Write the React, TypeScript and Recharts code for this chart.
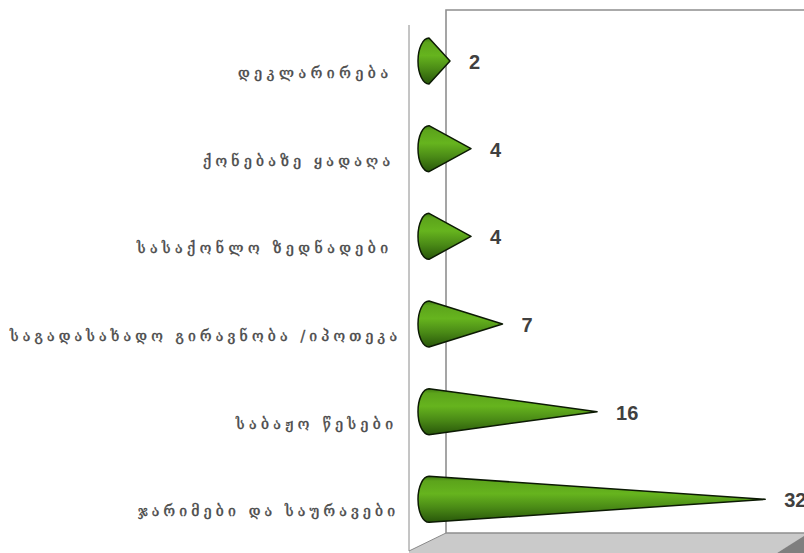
import { BarChart, Bar, XAxis, YAxis, LabelList, Customized } from "recharts";

const categories = [
  "დეკლარირება",
  "ქონებაზე ყადაღა",
  "სასაქონლო ზედნადები",
  "საგადასახადო გირავნობა /იპოთეკა",
  "საბაჟო წესები",
  "ჯარიმები და საურავები",
];
const counts = [2, 4, 4, 7, 16, 32];

const data = categories.map((name, i) => ({ name, value: counts[i] }));

// Правый край и ширина подписей: в оригинале они выровнены неровно
const tickEnds = [388, 390, 388, 397, 393, 395];
const tickWidths = [150, 187, 251, 387, 157, 257];

// Конус: основание-эллипс слева, вершина на значении
const Cone = (props: any) => {
  const { x, y, width, height } = props;
  const cy = y + height / 2;
  const r = 23;
  const rx = 11;
  const tip = x + width;
  const d = `M ${tip} ${cy} L ${x} ${cy - r} A ${rx} ${r} 0 0 0 ${x} ${cy + r} Z`;
  return <path d={d} fill="url(#coneFill)" stroke="#0c1a04" strokeWidth={1.5} strokeLinejoin="round" />;
};

// Задняя стенка и пол псевдо-3D рамки
const Frame = () => (
  <g>
    <polygon points="446,533 804,533 804,537 777,553 409,553 409,551" fill="#cacaca" />
    <polygon points="777,553 804,536 804,553" fill="#7f7f7f" />
    <polyline points="409,25 409,551 446,533" fill="none" stroke="#8a8a8a" strokeWidth={1} />
    <polyline points="804,10 446,10 446,533 804,533" fill="none" stroke="#8f8f8f" strokeWidth={1.6} />
  </g>
);

const CategoryTick = (props: any) => {
  const { y, index, payload } = props;
  return (
    <text
      x={tickEnds[index] - tickWidths[index]}
      y={y}
      dy={17}
      textLength={tickWidths[index]}
      lengthAdjust="spacing"
      fontFamily="DejaVu Serif, DejaVu Sans"
      fontSize={14}
      fill="#4a4a4a"
      stroke="#4a4a4a"
      strokeWidth={0.4}
    >
      {payload.value}
    </text>
  );
};

const App = () => (
  <div style={{ position: "absolute", left: 0, top: 0, width: 804, height: 553, overflow: "hidden" }}>
    <BarChart
      width={804}
      height={553}
      data={data}
      layout="vertical"
      barSize={46}
      margin={{ top: 17, right: 0, bottom: 10, left: 0 }}
      style={{ fontFamily: "Liberation Sans" }}
    >
      <defs>
        <linearGradient id="coneFill" x1="0" y1="0" x2="0" y2="1">
          <stop offset="0" stopColor="#3f7a12" />
          <stop offset="0.1" stopColor="#5ca41b" />
          <stop offset="0.38" stopColor="#66b41e" />
          <stop offset="0.68" stopColor="#4a8a16" />
          <stop offset="1" stopColor="#28560a" />
        </linearGradient>
      </defs>
      <Customized component={Frame} />
      <XAxis type="number" domain={[0, 35.7]} hide />
      <YAxis
        type="category"
        dataKey="name"
        width={429}
        axisLine={false}
        tickLine={false}
        tick={<CategoryTick />}
        interval={0}
      />
      <Bar dataKey="value" isAnimationActive={false} shape={<Cone />}>
        <LabelList
          dataKey="value"
          position="right"
          offset={19}
          dy={1}
          style={{ fontFamily: "Liberation Sans", fontSize: 20, fontWeight: 700, fill: "#404040" }}
        />
      </Bar>
    </BarChart>
  </div>
);

export default App;
